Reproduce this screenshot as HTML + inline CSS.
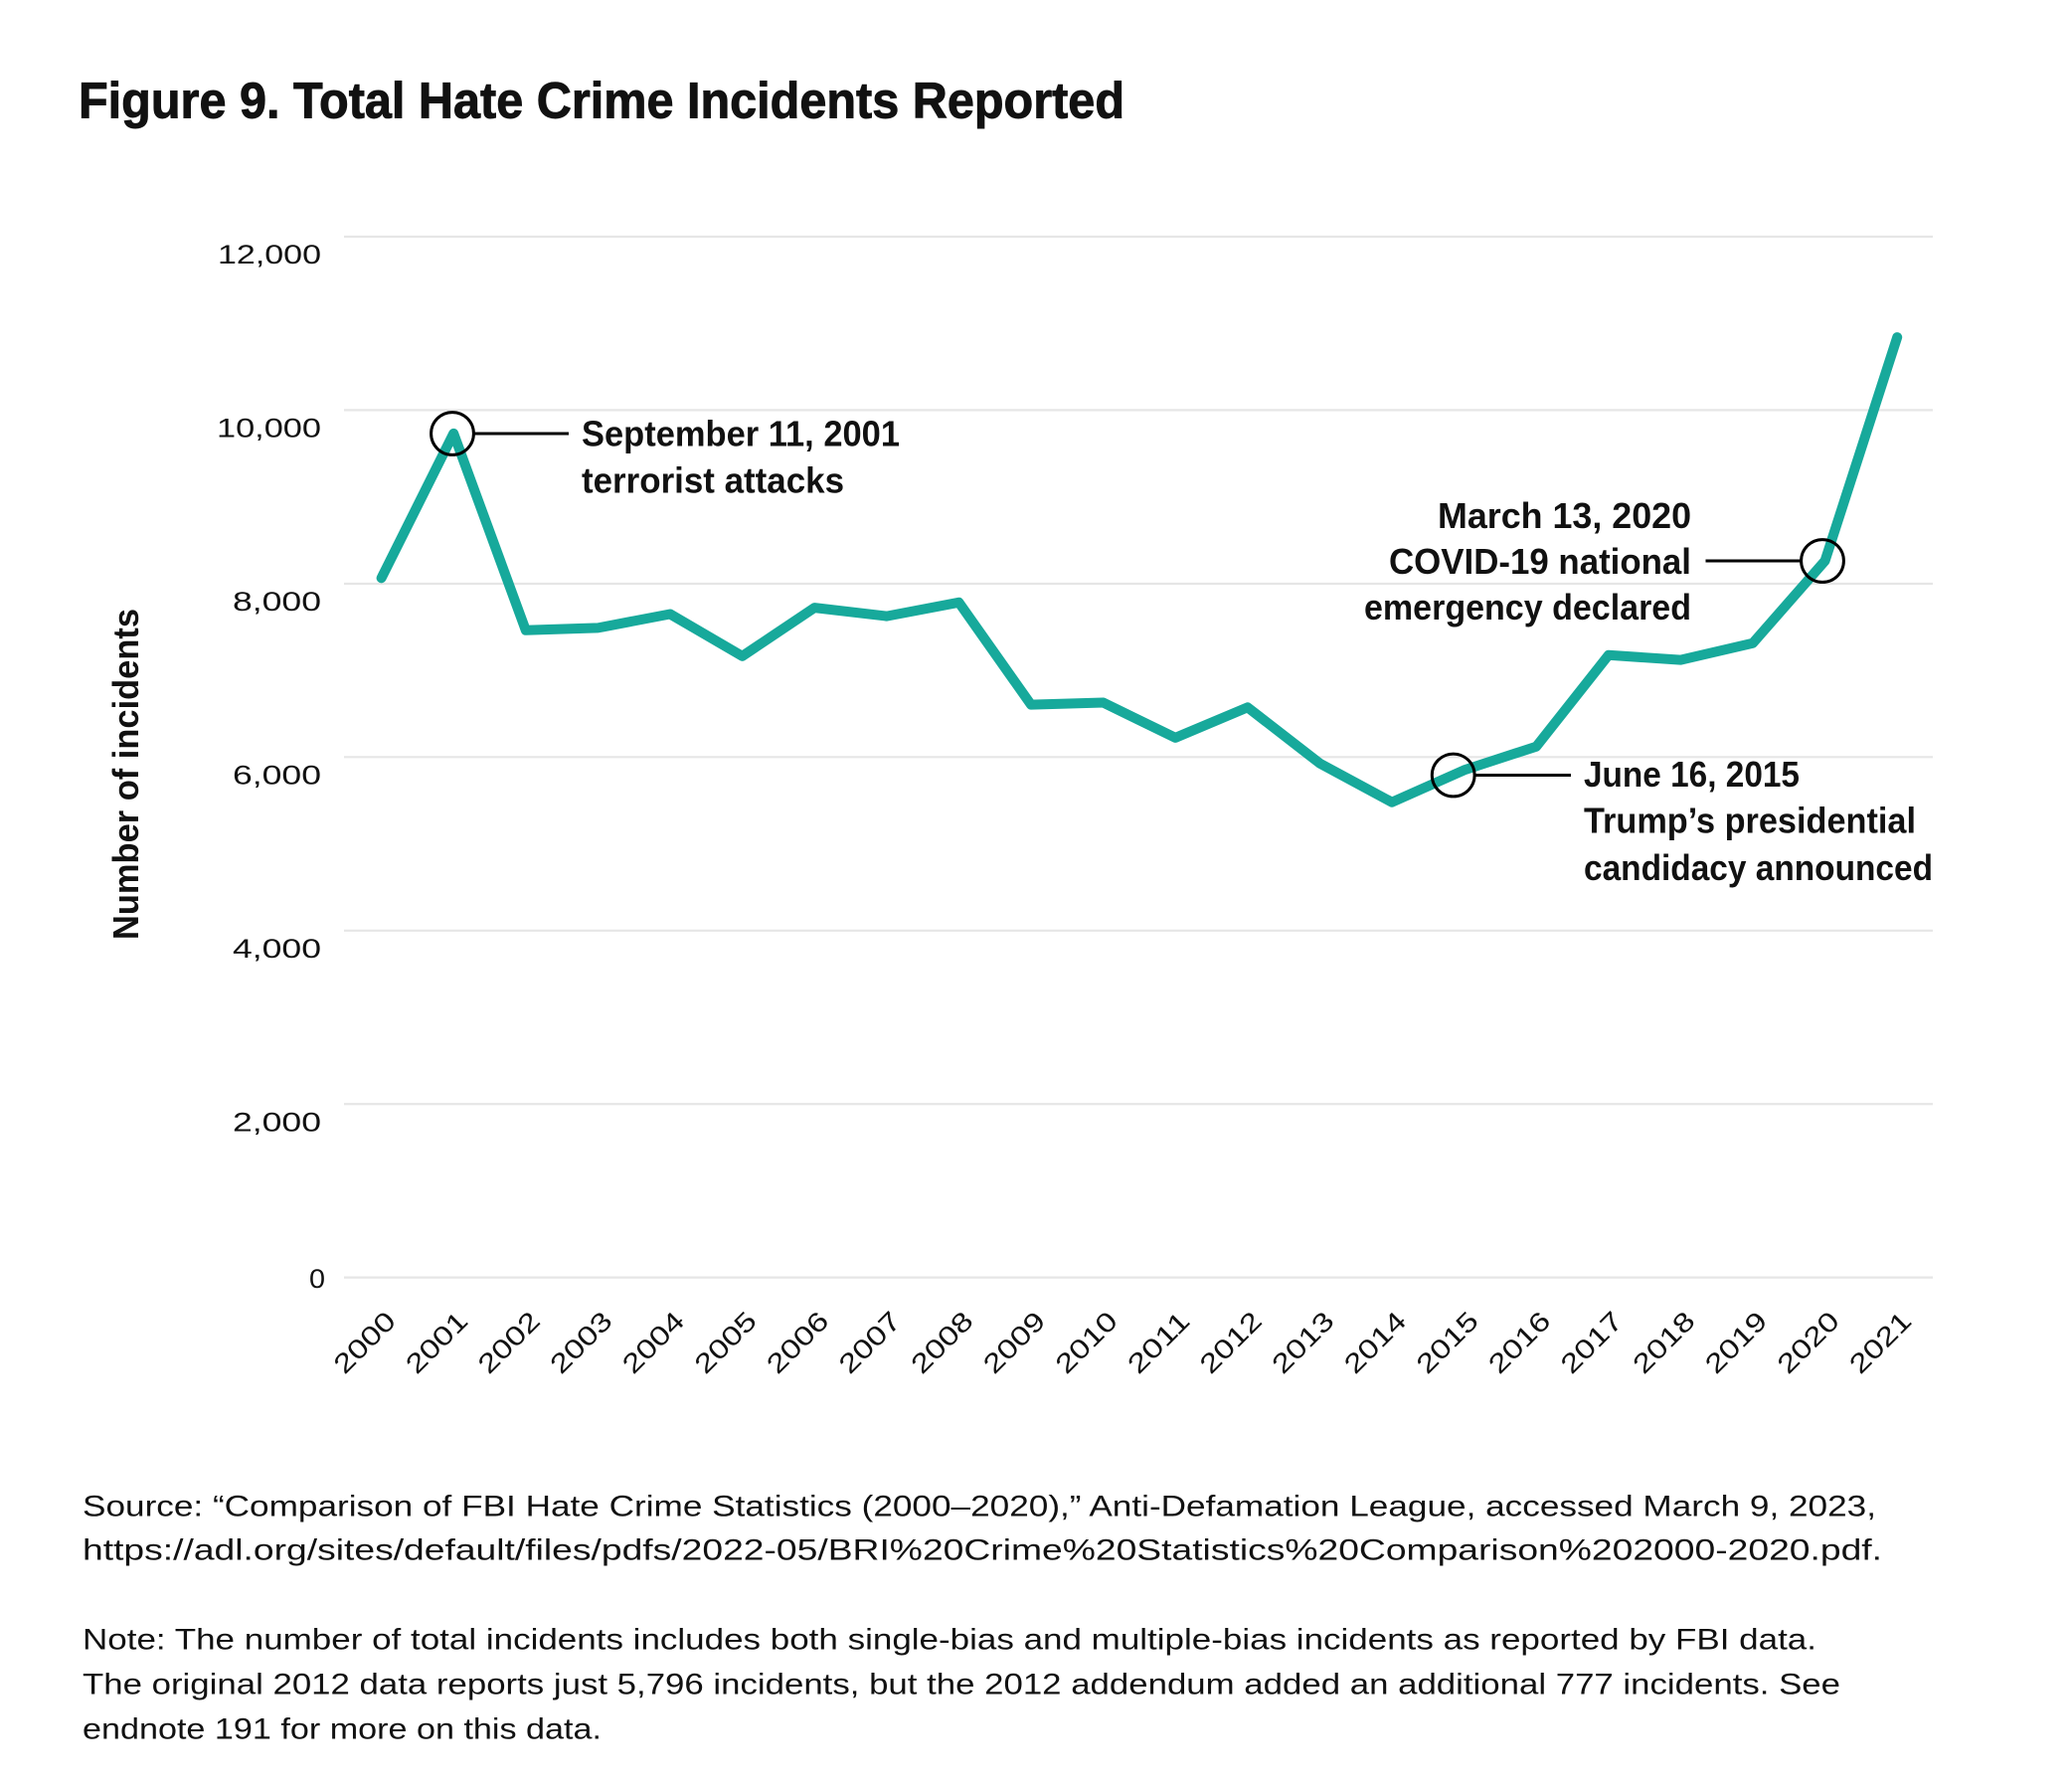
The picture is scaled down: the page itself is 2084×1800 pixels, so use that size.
<!DOCTYPE html>
<html>
<head>
<meta charset="utf-8">
<style>
  html, body { margin: 0; padding: 0; background: #ffffff; }
  svg { display: block; }
  text { font-family: "Liberation Sans", "DejaVu Sans", sans-serif; fill: #111; }
  .b { font-weight: bold; }
</style>
</head>
<body>
<svg width="2084" height="1800" viewBox="0 0 2084 1800" xmlns="http://www.w3.org/2000/svg">
  <rect x="0" y="0" width="2084" height="1800" fill="#ffffff"/>

  <!-- Title -->
  <text class="b" x="79" y="118.6" font-size="51" stroke="#111" stroke-width="0.9" textLength="1052" lengthAdjust="spacingAndGlyphs">Figure 9. Total Hate Crime Incidents Reported</text>

  <!-- Gridlines -->
  <g stroke="#e6e6e6" stroke-width="2.2">
    <line x1="346" y1="238" x2="1944" y2="238"/>
    <line x1="346" y1="412.4" x2="1944" y2="412.4"/>
    <line x1="346" y1="587" x2="1944" y2="587"/>
    <line x1="346" y1="761.3" x2="1944" y2="761.3"/>
    <line x1="346" y1="935.8" x2="1944" y2="935.8"/>
    <line x1="346" y1="1110.2" x2="1944" y2="1110.2"/>
    <line x1="346" y1="1284.6" x2="1944" y2="1284.6"/>
  </g>

  <!-- Y tick labels -->
  <g font-size="27" text-anchor="end">
    <text x="323" y="265" textLength="104" lengthAdjust="spacingAndGlyphs">12,000</text>
    <text x="323" y="439.4" textLength="105" lengthAdjust="spacingAndGlyphs">10,000</text>
    <text x="323" y="614" textLength="89" lengthAdjust="spacingAndGlyphs">8,000</text>
    <text x="323" y="788.5" textLength="89" lengthAdjust="spacingAndGlyphs">6,000</text>
    <text x="323" y="963" textLength="89" lengthAdjust="spacingAndGlyphs">4,000</text>
    <text x="323" y="1137.4" textLength="89" lengthAdjust="spacingAndGlyphs">2,000</text>
    <text x="327" y="1295" textLength="16" lengthAdjust="spacingAndGlyphs">0</text>
  </g>

  <!-- Y axis title -->
  <text class="b" font-size="36" text-anchor="middle" textLength="333" lengthAdjust="spacingAndGlyphs" transform="translate(139,778.5) rotate(-90)" x="0" y="0">Number of incidents</text>

  <!-- X tick labels -->
  <g font-size="27" text-anchor="end">
    <text transform="translate(399.6,1330) rotate(-45)" textLength="75" lengthAdjust="spacingAndGlyphs">2000</text>
    <text transform="translate(472.2,1330) rotate(-45)" textLength="75" lengthAdjust="spacingAndGlyphs">2001</text>
    <text transform="translate(544.8,1330) rotate(-45)" textLength="75" lengthAdjust="spacingAndGlyphs">2002</text>
    <text transform="translate(617.4,1330) rotate(-45)" textLength="75" lengthAdjust="spacingAndGlyphs">2003</text>
    <text transform="translate(690,1330) rotate(-45)" textLength="75" lengthAdjust="spacingAndGlyphs">2004</text>
    <text transform="translate(762.6,1330) rotate(-45)" textLength="75" lengthAdjust="spacingAndGlyphs">2005</text>
    <text transform="translate(835.2,1330) rotate(-45)" textLength="75" lengthAdjust="spacingAndGlyphs">2006</text>
    <text transform="translate(907.8,1330) rotate(-45)" textLength="75" lengthAdjust="spacingAndGlyphs">2007</text>
    <text transform="translate(980.4,1330) rotate(-45)" textLength="75" lengthAdjust="spacingAndGlyphs">2008</text>
    <text transform="translate(1053,1330) rotate(-45)" textLength="75" lengthAdjust="spacingAndGlyphs">2009</text>
    <text transform="translate(1125.6,1330) rotate(-45)" textLength="75" lengthAdjust="spacingAndGlyphs">2010</text>
    <text transform="translate(1198.2,1330) rotate(-45)" textLength="75" lengthAdjust="spacingAndGlyphs">2011</text>
    <text transform="translate(1270.8,1330) rotate(-45)" textLength="75" lengthAdjust="spacingAndGlyphs">2012</text>
    <text transform="translate(1343.4,1330) rotate(-45)" textLength="75" lengthAdjust="spacingAndGlyphs">2013</text>
    <text transform="translate(1416,1330) rotate(-45)" textLength="75" lengthAdjust="spacingAndGlyphs">2014</text>
    <text transform="translate(1488.6,1330) rotate(-45)" textLength="75" lengthAdjust="spacingAndGlyphs">2015</text>
    <text transform="translate(1561.2,1330) rotate(-45)" textLength="75" lengthAdjust="spacingAndGlyphs">2016</text>
    <text transform="translate(1633.8,1330) rotate(-45)" textLength="75" lengthAdjust="spacingAndGlyphs">2017</text>
    <text transform="translate(1706.4,1330) rotate(-45)" textLength="75" lengthAdjust="spacingAndGlyphs">2018</text>
    <text transform="translate(1779,1330) rotate(-45)" textLength="75" lengthAdjust="spacingAndGlyphs">2019</text>
    <text transform="translate(1851.6,1330) rotate(-45)" textLength="75" lengthAdjust="spacingAndGlyphs">2020</text>
    <text transform="translate(1924.2,1330) rotate(-45)" textLength="75" lengthAdjust="spacingAndGlyphs">2021</text>
  </g>

  <!-- Data line -->
  <polyline fill="none" stroke="#17a99b" stroke-width="10" stroke-linecap="round" stroke-linejoin="round"
    points="383.6,581.3 456.2,435.9 528.8,633.8 601.4,631.4 674,617.5 746.6,659.8 819.2,611.1 891.8,619.6 964.4,605.8 1037,708.6 1109.6,706.5 1182.2,741.9 1254.8,711.3 1327.4,767.6 1400,806.7 1472.6,774.4 1545.2,750.7 1617.8,658.8 1690.4,663.6 1763,646.7 1835.6,563.9 1908.2,339.1"/>

  <!-- Annotation markers -->
  <g fill="none" stroke="#000" stroke-width="3">
    <circle cx="455" cy="436" r="21.4"/>
    <line x1="477" y1="436" x2="572" y2="436"/>
    <circle cx="1833" cy="564" r="21.4"/>
    <line x1="1715.5" y1="564" x2="1811" y2="564"/>
    <circle cx="1461.7" cy="779.5" r="21.4"/>
    <line x1="1484" y1="779.5" x2="1580" y2="779.5"/>
  </g>

  <!-- Annotations -->
  <g class="b" font-size="36">
    <text class="b" x="585" y="448.5" textLength="320" lengthAdjust="spacingAndGlyphs">September 11, 2001</text>
    <text class="b" x="585" y="495.6" textLength="264" lengthAdjust="spacingAndGlyphs">terrorist attacks</text>

    <text class="b" x="1701" y="530.8" text-anchor="end" textLength="255" lengthAdjust="spacingAndGlyphs">March 13, 2020</text>
    <text class="b" x="1701" y="577" text-anchor="end" textLength="304" lengthAdjust="spacingAndGlyphs">COVID-19 national</text>
    <text class="b" x="1701" y="623" text-anchor="end" textLength="329" lengthAdjust="spacingAndGlyphs">emergency declared</text>

    <text class="b" x="1593" y="791" textLength="217" lengthAdjust="spacingAndGlyphs">June 16, 2015</text>
    <text class="b" x="1593" y="837.7" textLength="334" lengthAdjust="spacingAndGlyphs">Trump’s presidential</text>
    <text class="b" x="1593" y="884.8" textLength="351" lengthAdjust="spacingAndGlyphs">candidacy announced</text>
  </g>

  <!-- Footer -->
  <g font-size="29.5">
    <text x="83" y="1524.3" textLength="1804" lengthAdjust="spacingAndGlyphs">Source: “Comparison of FBI Hate Crime Statistics (2000–2020),” Anti-Defamation League, accessed March 9, 2023,</text>
    <text x="83" y="1568.3" textLength="1810" lengthAdjust="spacingAndGlyphs">https://adl.org/sites/default/files/pdfs/2022-05/BRI%20Crime%20Statistics%20Comparison%202000-2020.pdf.</text>
    <text x="83" y="1658.3" textLength="1744" lengthAdjust="spacingAndGlyphs">Note: The number of total incidents includes both single-bias and multiple-bias incidents as reported by FBI data.</text>
    <text x="83" y="1703.3" textLength="1768" lengthAdjust="spacingAndGlyphs">The original 2012 data reports just 5,796 incidents, but the 2012 addendum added an additional 777 incidents. See</text>
    <text x="83" y="1748.3" textLength="522" lengthAdjust="spacingAndGlyphs">endnote 191 for more on this data.</text>
  </g>
</svg>
</body>
</html>
